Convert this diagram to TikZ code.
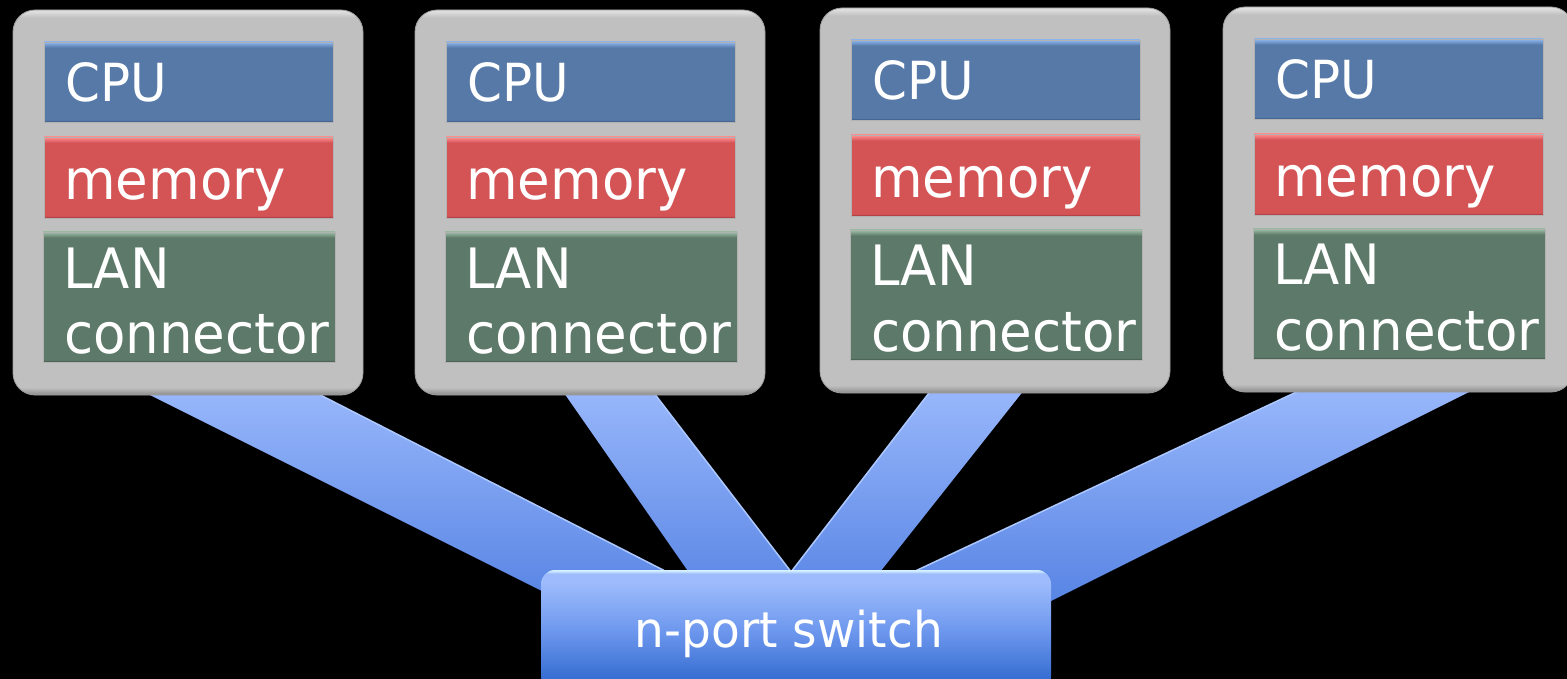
\documentclass[tikz,border=0pt]{standalone}
\usepackage{fontspec}
\usepackage{graphicx}
\setmainfont{DejaVu Sans}
\definecolor{cpuC}{RGB}{86,121,168}
\definecolor{cpuL}{RGB}{140,180,235}
\definecolor{cpuD}{RGB}{62,92,135}
\definecolor{memC}{RGB}{212,83,85}
\definecolor{memL}{RGB}{255,140,140}
\definecolor{memD}{RGB}{165,60,62}
\definecolor{lanC}{RGB}{93,121,105}
\definecolor{lanL}{RGB}{150,185,160}
\definecolor{lanD}{RGB}{68,92,78}
\definecolor{boxC}{RGB}{192,192,192}
\definecolor{boxL}{RGB}{222,222,222}
\definecolor{boxD}{RGB}{150,150,150}
\definecolor{swH}{RGB}{215,242,255}
\definecolor{swT}{RGB}{158,188,252}
\definecolor{swM}{RGB}{110,152,238}
\definecolor{swB}{RGB}{55,110,210}
\definecolor{beamT}{RGB}{155,185,252}
\definecolor{beamB}{RGB}{82,128,226}
\definecolor{beamE}{RGB}{172,200,255}
\pgfdeclareverticalshading{cpushade}{100bp}{color(0bp)=(cpuD); color(25.3bp)=(cpuD); color(26.3bp)=(cpuC); color(71.5bp)=(cpuC); color(74.7bp)=(cpuL); color(100bp)=(cpuL)}
\pgfdeclareverticalshading{memshade}{100bp}{color(0bp)=(memD); color(25.3bp)=(memD); color(26.3bp)=(memC); color(71.5bp)=(memC); color(74.7bp)=(memL); color(100bp)=(memL)}
\pgfdeclareverticalshading{lanshade}{100bp}{color(0bp)=(lanD); color(25.2bp)=(lanD); color(25.8bp)=(lanC); color(72.8bp)=(lanC); color(74.8bp)=(lanL); color(100bp)=(lanL)}
\pgfdeclareverticalshading{boxshade}{100bp}{color(0bp)=(boxD); color(25.2bp)=(boxD); color(26bp)=(boxC); color(74bp)=(boxC); color(74.8bp)=(boxL); color(100bp)=(boxL)}
\pgfdeclareverticalshading{swshade}{100bp}{color(0bp)=(swB); color(25bp)=(swB); color(30bp)=(swB); color(50bp)=(swM); color(70bp)=(swT); color(73.5bp)=(swT); color(74.8bp)=(swH); color(100bp)=(swH)}
\pgfdeclarelayer{bg}
\pgfsetlayers{bg,main}
\newcommand{\tallA}[1]{\scalebox{1}[1.05]{#1}}
\tikzset{
  graybox/.style={shade, shading=boxshade, rounded corners=22pt, draw=boxD!80!boxC, line width=0.8pt,
    minimum width=350pt, minimum height=385pt, inner sep=0pt, outer sep=0pt, anchor=north west},
  bar/.style={inner sep=0pt, outer sep=0pt, anchor=north west, draw=black!30, line width=0.6pt},
  cpubar/.style={bar, shade, shading=cpushade, minimum width=289pt, minimum height=80pt},
  membar/.style={bar, shade, shading=memshade, minimum width=289pt, minimum height=81pt},
  lanbar/.style={bar, shade, shading=lanshade, minimum width=292pt, minimum height=130pt},
  lbl/.style={text=white, inner sep=0pt, anchor=base west, font=\fontsize{53}{60}\selectfont},
  cpulbl/.style={lbl, font=\fontsize{50}{60}\selectfont},
  switchbox/.style={shade, shading=swshade, rounded corners=14pt, minimum width=510pt,
    minimum height=120pt, inner sep=0pt, outer sep=0pt, anchor=north west},
  beam/.style={shade, top color=beamT, bottom color=beamB},
  beamedge/.style={draw=beamE, line width=1.5pt}
}
\begin{document}
\begin{tikzpicture}[x=1pt,y=-1pt]
\useasboundingbox (0,0) rectangle (1567,679);
\foreach \i/\L/\T in {1/13/10, 2/415/10, 3/820/8, 4/1223/7}{
  \node[graybox] (box\i) at (\L,\T) {};
  \node[cpubar] (cpu\i) at (\L+31,\T+32) {};
  \node[membar] (mem\i) at (\L+31,\T+127) {};
  \node[lanbar] (lan\i) at (\L+30,\T+222) {};
  \node[cpulbl] (cput\i) at (\L+52,\T+92) {\tallA{CPU}};
  \node[lbl] (memt\i) at (\L+51,\T+190) {\tallA{memory}};
  \node[lbl] (lant\i) at (\L+50,\T+278) {\tallA{LAN}};
  \node[lbl] (cont\i) at (\L+51,\T+343) {\tallA{connector}};
}
\node[switchbox] (sw) at (541,570) {};
\node[text=white, inner sep=0pt, anchor=base, font=\fontsize{47}{56}\selectfont] (swt) at (789,647) {\tallA{n-port switch}};
\begin{pgfonlayer}{bg}
  \fill[black] (0,0) rectangle (1567,679);
  \shade[beam] ([xshift=107pt,yshift=15pt]box1.south west) -- ([xshift=278pt,yshift=15pt]box1.south west)
     -- ([xshift=220pt,yshift=-50pt]sw.north west) -- ([xshift=59pt,yshift=-50pt]sw.north west) -- cycle;
  \draw[beamedge] ([xshift=278pt,yshift=15pt]box1.south west) -- ([xshift=220pt,yshift=-50pt]sw.north west);
  \shade[beam] ([xshift=140pt,yshift=15pt]box2.south west) -- ([xshift=229pt,yshift=15pt]box2.south west)
     -- ([xshift=287pt,yshift=-50pt]sw.north west) -- ([xshift=181pt,yshift=-50pt]sw.north west) -- cycle;
  \draw[beamedge] ([xshift=229pt,yshift=15pt]box2.south west) -- ([xshift=287pt,yshift=-50pt]sw.north west);
  \shade[beam] ([xshift=119pt,yshift=13pt]box3.south west) -- ([xshift=212pt,yshift=13pt]box3.south west)
     -- ([xshift=301pt,yshift=-50pt]sw.north west) -- ([xshift=213pt,yshift=-50pt]sw.north west) -- cycle;
  \draw[beamedge] ([xshift=119pt,yshift=13pt]box3.south west) -- ([xshift=213pt,yshift=-50pt]sw.north west);
  \shade[beam] ([xshift=99pt,yshift=12pt]box4.south west) -- ([xshift=270pt,yshift=12pt]box4.south west)
     -- ([xshift=472pt,yshift=-50pt]sw.north west) -- ([xshift=270pt,yshift=-50pt]sw.north west) -- cycle;
  \draw[beamedge] ([xshift=99pt,yshift=12pt]box4.south west) -- ([xshift=270pt,yshift=-50pt]sw.north west);
\end{pgfonlayer}
\end{tikzpicture}
\end{document}
